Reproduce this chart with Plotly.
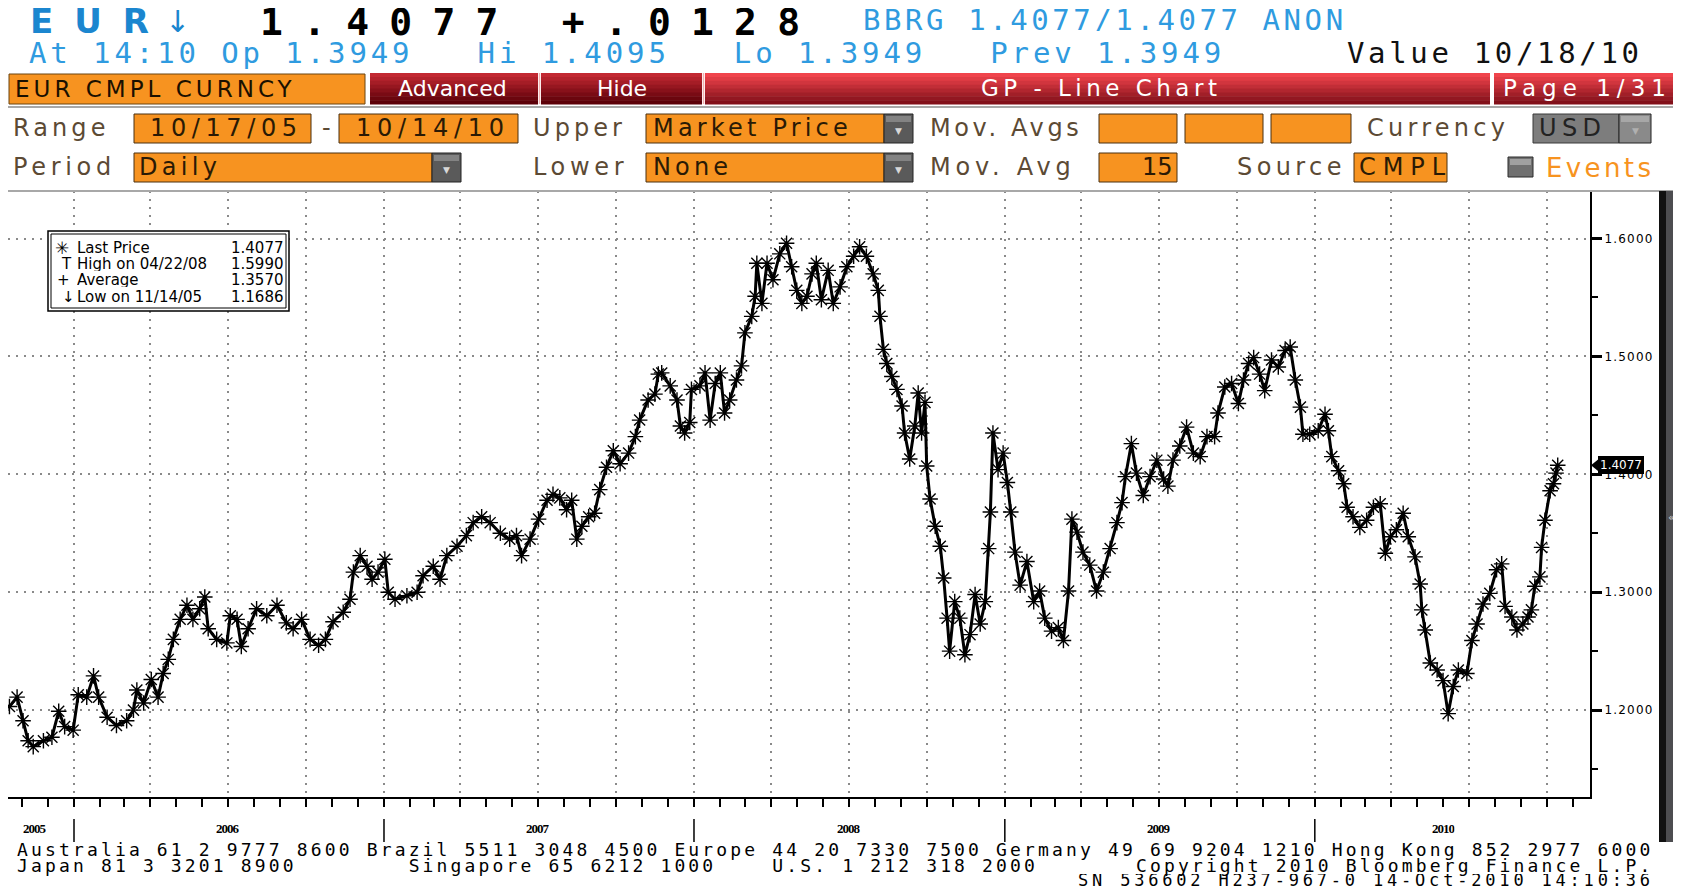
import plotly.graph_objects as go
import pandas as pd

# ---------------- data ----------------
start_date = "2005-10-17"
day_offsets = [
    0, 9, 16, 22, 28, 40, 50, 58, 65, 75, 81, 91, 99, 105, 115, 126, 138, 146, 150, 158, 167, 175, 181, 187, 193,
    201, 209, 216, 224, 230, 234, 244, 256, 260, 268, 273, 281, 291, 303, 315, 326, 334, 344,
    354, 364, 372, 381, 393, 401, 405, 413, 421, 427, 434, 442, 446, 454, 468, 480, 487, 499, 507, 515, 527, 538,
    546, 556, 566, 578, 589, 597, 603, 613, 623, 633, 640, 648, 656, 662, 668, 674, 682, 689, 695, 703, 711, 719,
    729, 737, 742, 752, 760, 764,
    768, 778, 786, 790, 795, 801, 803, 813, 819, 825, 831, 837, 842, 848, 856, 862, 866, 874, 878, 880, 886, 892,
    899, 907, 915, 921, 927, 933, 939, 945, 950, 956, 964, 970, 978, 986, 994, 1001, 1009, 1017, 1023, 1025, 1029,
    1033, 1039, 1045, 1051, 1054, 1060, 1066, 1070, 1074, 1078, 1080, 1084, 1090, 1096,
    1100, 1104, 1107, 1113, 1119, 1125, 1131, 1137, 1143, 1149, 1153, 1155, 1158, 1164, 1170, 1175, 1179, 1184,
    1190, 1198, 1206, 1213, 1219, 1227, 1235, 1241, 1247, 1251, 1257, 1264, 1272, 1280, 1288, 1296, 1304, 1310,
    1314, 1321, 1327, 1335, 1343, 1351, 1359, 1364, 1370, 1378, 1386, 1394, 1402, 1410, 1419, 1423, 1431, 1439,
    1447, 1453, 1459,
    1465, 1472, 1478, 1486, 1494, 1502, 1508, 1514, 1520, 1523, 1531, 1541, 1549, 1553, 1557, 1565, 1571, 1575,
    1582, 1590, 1598, 1606, 1614, 1620, 1626, 1633, 1641, 1647, 1655, 1661, 1663, 1667, 1673, 1681, 1688, 1694,
    1700, 1706, 1716, 1722, 1728, 1735, 1743, 1751, 1757, 1761, 1769, 1775, 1782, 1788, 1792, 1796, 1802, 1804,
    1808, 1814, 1818, 1821, 1823,
]
last_prices = [
    1.203, 1.211, 1.191, 1.174, 1.169, 1.174, 1.177, 1.199, 1.186, 1.183, 1.213, 1.211, 1.229, 1.211, 1.194, 1.187,
    1.191, 1.200, 1.217, 1.206, 1.226, 1.211, 1.231, 1.243, 1.260, 1.277, 1.289, 1.277, 1.286, 1.296, 1.269, 1.260,
    1.257, 1.280, 1.277, 1.254, 1.269, 1.286, 1.280, 1.289, 1.274, 1.269, 1.277,
    1.260, 1.255, 1.260, 1.275, 1.283, 1.294, 1.317, 1.331, 1.322, 1.311, 1.317, 1.328, 1.300, 1.294, 1.297, 1.300,
    1.314, 1.322, 1.311, 1.331, 1.339, 1.348, 1.359, 1.364, 1.359, 1.350, 1.345, 1.348, 1.331, 1.345, 1.362, 1.378,
    1.383, 1.380, 1.370, 1.378, 1.345, 1.356, 1.364, 1.367, 1.387, 1.406, 1.420, 1.409, 1.418, 1.432, 1.446, 1.463,
    1.468, 1.485,
    1.486, 1.475, 1.463, 1.441, 1.435, 1.444, 1.472, 1.475, 1.486, 1.446, 1.477, 1.486, 1.452, 1.463, 1.480, 1.492,
    1.520, 1.534, 1.551, 1.579, 1.545, 1.579, 1.565, 1.587, 1.596, 1.576, 1.556, 1.545, 1.551, 1.570, 1.579, 1.548,
    1.573, 1.545, 1.559, 1.576, 1.585, 1.593, 1.585, 1.570, 1.556, 1.534, 1.506, 1.494, 1.483, 1.472, 1.458, 1.435,
    1.413, 1.441, 1.469, 1.435, 1.461, 1.407, 1.379, 1.356, 1.339,
    1.312, 1.278, 1.250, 1.292, 1.278, 1.247, 1.264, 1.298, 1.273, 1.292, 1.337, 1.368, 1.435, 1.404, 1.418, 1.393,
    1.368, 1.334, 1.306, 1.326, 1.292, 1.301, 1.278, 1.267, 1.270, 1.259, 1.301, 1.362, 1.351, 1.334, 1.323, 1.301,
    1.317, 1.337, 1.359, 1.376, 1.398, 1.426, 1.401, 1.382, 1.398, 1.412, 1.396, 1.390, 1.412, 1.424, 1.440, 1.418,
    1.415, 1.432, 1.432, 1.452, 1.474, 1.477, 1.460, 1.480, 1.494,
    1.499, 1.485, 1.471, 1.497, 1.491, 1.505, 1.508, 1.480, 1.457, 1.434, 1.434, 1.437, 1.451, 1.437, 1.415, 1.403,
    1.392, 1.372, 1.364, 1.355, 1.361, 1.372, 1.375, 1.333, 1.347, 1.353, 1.367, 1.347, 1.330, 1.307, 1.285, 1.268,
    1.240, 1.234, 1.225, 1.197, 1.220, 1.234, 1.231, 1.259, 1.273, 1.290, 1.299, 1.319, 1.324, 1.288, 1.279, 1.268,
    1.273, 1.279, 1.285, 1.305, 1.313, 1.338, 1.361, 1.386, 1.392, 1.401, 1.4077,
]

year_labels = ["2005", "2006", "2007", "2008", "2009", "2010"]
year_label_dates = ["2005-11-16", "2006-07-01", "2007-07-01", "2008-07-01", "2009-07-01", "2010-06-01"]
year_boundaries = ["2006-01-01", "2007-01-01", "2008-01-01", "2009-01-01", "2010-01-01"]
y_tick_values = [1.2, 1.3, 1.4, 1.5, 1.6]
y_tick_labels = ["1.2000", "1.3000", "1.4000", "1.5000", "1.6000"]
y_minor_values = [1.15, 1.25, 1.35, 1.45, 1.55]

legend_symbols = ["\u2733", "T", "+", "\u2193"]
legend_names = ["Last Price", "High on 04/22/08", "Average", "Low on 11/14/05"]
legend_values = ["1.4077", "1.5990", "1.3570", "1.1686"]

footer_lines = [
    "Australia 61 2 9777 8600 Brazil 5511 3048 4500 Europe 44 20 7330 7500 Germany 49 69 9204 1210 Hong Kong 852 2977 6000",
    "Japan 81 3 3201 8900        Singapore 65 6212 1000    U.S. 1 212 318 2000       Copyright 2010 Bloomberg Finance L.P.",
    "SN 536602 H237-967-0 14-Oct-2010 14:10:36",
]

n = min(len(day_offsets), len(last_prices))
dates = pd.Timestamp(start_date) + pd.to_timedelta(day_offsets[:n], unit="D")
prices = last_prices[:n]

# ---------------- geometry helpers (reference-screen pixels) ----------------
OFF = 8                      # page body margin of the browser
W, H = 1681 - 2 * OFF, 894 - 2 * OFF
L, R, T, B = 8, 1590, 191, 797


def px(X):
    return (X - L) / (R - L)


def py(Y):
    return (B - Y) / (B - T)


DV = {' ': .318, '-': .361, '.': .318, '/': .337, ':': .337,
      'A': .684, 'B': .686, 'C': .698, 'D': .770, 'E': .632, 'F': .575, 'G': .775, 'H': .752, 'I': .295,
      'L': .557, 'M': .863, 'N': .748, 'O': .787, 'P': .603, 'R': .695, 'S': .635, 'T': .611, 'U': .732,
      'V': .684, 'Y': .611, 'a': .613, 'b': .635, 'c': .550, 'd': .635, 'e': .615, 'f': .352, 'g': .635,
      'h': .634, 'i': .278, 'k': .579, 'l': .278, 'm': .974, 'n': .634, 'o': .612, 'p': .635, 'r': .411,
      's': .521, 't': .392, 'u': .634, 'v': .592, 'w': .818, 'x': .592, 'y': .592, 'z': .525}
DVB = {'E': .683, 'U': .812, 'R': .770}


def natural_width(s, size, kind):
    if kind == "mono":
        return 0.602 * size * len(s)
    tab = DVB if kind == "bold" else DV
    return sum(tab.get(c, DV.get(c, 0.636 if c.isdigit() else 0.6)) for c in s) * size


def spaced(s, size, target, kind):
    ls = (target - natural_width(s, size, kind)) / max(len(s) - 1, 1)
    s = s.replace("  ", "\u00a0\u00a0").replace("\u00a0 ", "\u00a0\u00a0")
    return '<span style="letter-spacing:%.2fpx">%s</span>' % (ls, s)


MONO = "DejaVu Sans Mono"
SANS = "DejaVu Sans"
BLUE = "#2f9be0"
EURBLUE = "#1b86cf"
ORANGE = "#F79320"
LABEL = "#5c4a34"

fig = go.Figure()

fig.add_trace(go.Scatter(
    x=dates, y=prices, mode="lines+markers",
    line=dict(color="black", width=3),
    marker=dict(symbol="asterisk-open", size=13, line=dict(color="black", width=1.4)),
    hoverinfo="skip", showlegend=False,
))

annotations = []
shapes = []


def text(X, Y, s, size, color, family=SANS, anchor="left", target=None, kind="sans", bold=False, pad=1,
         box_h=None):
    t = spaced(s, size, target, kind) if target else s
    a = dict(
        x=px(X), y=py(Y), xref="paper", yref="paper", text=t, showarrow=False,
        xanchor=anchor, yanchor="middle", align=anchor, borderpad=pad,
        font=dict(size=size, color=color, family=family, weight="bold" if bold else "normal"),
    )
    if box_h:
        a["height"] = box_h
        a["valign"] = "middle"
    annotations.append(a)


def rect(X0, Y0, X1, Y1, fill, line=None, lw=1):
    shapes.append(dict(type="rect", xref="paper", yref="paper", x0=px(X0), x1=px(X1), y0=py(Y1), y1=py(Y0),
                       fillcolor=fill, line=dict(color=line or fill, width=lw if line else 0), layer="above"))


def hexmix(c1, c2, t):
    a = [int(c1[i:i + 2], 16) for i in (1, 3, 5)]
    b = [int(c2[i:i + 2], 16) for i in (1, 3, 5)]
    return "#%02x%02x%02x" % tuple(round(a[k] + (b[k] - a[k]) * t) for k in range(3))


def gradient(X0, Y0, X1, Y1, ctop, cbot, nb=8):
    h = (Y1 - Y0) / nb
    for k in range(nb):
        rect(X0, Y0 + k * h, X1, Y0 + (k + 1) * h + 0.6, hexmix(ctop, cbot, k / (nb - 1)))


def line(X0, Y0, X1, Y1, color, w=1):
    shapes.append(dict(type="line", xref="paper", yref="paper", x0=px(X0), x1=px(X1), y0=py(Y0), y1=py(Y1),
                       line=dict(color=color, width=w), layer="above"))


# ---------------- header ----------------
text(29, 21, "EUR", 34, EURBLUE, SANS, target=119, kind="bold", bold=True, pad=0, box_h=26)
text(164, 21, "\u2193", 30, EURBLUE, SANS, pad=0, box_h=26)
text(259, 22, "1.4077 +.0128", 38, "black", MONO, target=540, kind="mono", bold=True, pad=0, box_h=28)
text(862, 20, "BBRG 1.4077/1.4077 ANON", 29, BLUE, MONO, target=480, kind="mono", pad=0, box_h=23)
text(27, 53, "At 14:10 Op 1.3949   Hi 1.4095   Lo 1.3949   Prev 1.3949", 29, BLUE, MONO, target=1192, kind="mono")
text(1345, 53, "Value 10/18/10", 29, "#111111", MONO, target=292, kind="mono")

# command bar
rect(9, 74, 365, 104, ORANGE, "#6a4410", 1)
text(13, 89, "EUR CMPL CURNCY", 23, "#1a1000", SANS, target=277)
gradient(370, 73, 538, 104, "#c22832", "#5c0008")
gradient(541, 73, 702, 104, "#c22832", "#5c0008")
gradient(705, 73, 1490, 104, "#f0444c", "#82101a")
gradient(1494, 73, 1676, 104, "#f0444c", "#82101a")
line(539.5, 73, 539.5, 104, "#f2b0b0", 1.5)
line(703.5, 73, 703.5, 104, "#f2b0b0", 1.5)
line(1492, 73, 1492, 104, "white", 2.5)
text(453, 88, "Advanced", 22, "white", SANS, anchor="center")
text(622, 88, "Hide", 22, "white", SANS, anchor="center")
text(979, 88, "GP - Line Chart", 23, "white", SANS, target=236)
text(1501, 88, "Page 1/31", 23, "white", SANS, target=164)

# control panel
rect(5, 107, 1678, 191, "rgba(0,0,0,0)", "#a8a8a8", 2)
RY, PY = 128, 167
text(11, RY, "Range", 24, LABEL, target=93)
text(531, RY, "Upper", 24, LABEL, target=89)
text(928, RY, "Mov. Avgs", 24, LABEL, target=152)
text(1365, RY, "Currency", 24, LABEL, target=139)
text(11, PY, "Period", 24, LABEL, target=99)
text(531, PY, "Lower", 24, LABEL, target=91)
text(928, PY, "Mov. Avg", 24, LABEL, target=144)
text(1235, PY, "Source", 24, LABEL, target=105)

FT = "#2a1a05"
rect(134, 114, 311, 143, ORANGE, "#4a3010", 1)
text(148, RY, "10/17/05", 24, FT, target=147)
text(320, RY, "-", 24, LABEL)
rect(339, 114, 518, 143, ORANGE, "#4a3010", 1)
text(354, RY, "10/14/10", 24, FT, target=148)


def dropdown(X0, Y0, X1, Y1, fill="#5a5a5a", arrow="#d8d8d8"):
    rect(X0, Y0, X1, Y1, fill, "#222222", 1)
    rect(X0 + 2, Y0 + 2, X1 - 2, Y0 + 8, hexmix(fill, "#ffffff", 0.25))
    text((X0 + X1) / 2, (Y0 + Y1) / 2 + 2, "\u25BC", 9, arrow, SANS, anchor="center")


rect(646, 114, 884, 143, ORANGE, "#4a3010", 1)
text(651, RY, "Market Price", 24, FT, target=196)
dropdown(884, 114, 913, 143)
for x0, x1 in [(1099, 1177), (1185, 1263), (1271, 1351)]:
    rect(x0, 114, x1, 143, ORANGE, "#4a3010", 1)
rect(1533, 114, 1619, 143, "#7d7d7d", "#3a3a3a", 1)
text(1537, RY, "USD", 24, "#222222", target=62)
dropdown(1619, 114, 1651, 143, fill="#8a8a8a", arrow="#b0b0b0")

rect(134, 153, 432, 182, ORANGE, "#4a3010", 1)
text(137, PY, "Daily", 24, FT, target=78)
dropdown(432, 153, 461, 182)
rect(646, 153, 884, 182, ORANGE, "#4a3010", 1)
text(651, PY, "None", 24, FT, target=75)
dropdown(884, 153, 913, 182)
rect(1099, 153, 1177, 182, ORANGE, "#4a3010", 1)
text(1175, PY, "15", 24, FT, anchor="right")
rect(1354, 153, 1447, 182, ORANGE, "#4a3010", 1)
text(1357, PY, "CMPL", 24, FT, target=86)
rect(1508, 157, 1533, 177, "#707070", "#2a2a2a", 1)
rect(1510, 159, 1531, 165, "#a0a0a0")
text(1544, PY + 1, "Events", 26, ORANGE, target=105)

# scrollbar on the right
rect(1659, 191, 1666, 842, "#111111")
rect(1666, 191, 1681, 842, "#4d4d50")
text(1666, 517, "\u00ab", 11, "#d0d0d0", SANS)

# ---------------- chart decorations ----------------
# legend box
rect(48, 231, 289, 311, "white", "black", 1.5)
rect(51, 234, 286, 308, "rgba(0,0,0,0)", "black", 1)
rows_y = [248, 264, 280, 297]
sym_x = [54, 60, 56, 61]
for k in range(4):
    text(sym_x[k], rows_y[k], legend_symbols[k], 15 if k else 17, "black", SANS, pad=0, box_h=14)
    text(76, rows_y[k], legend_names[k], 15, "black", SANS, pad=0, box_h=14)
    text(285, rows_y[k], legend_values[k], 15, "black", SANS, anchor="right", pad=0, box_h=14)

# year labels and separators
for lab, d in zip(year_labels, year_label_dates):
    annotations.append(dict(x=d, y=py(828), xref="x", yref="paper",
                            text='<span style="letter-spacing:-1px">%s</span>' % lab, showarrow=False,
                            xanchor="center", yanchor="middle", borderpad=0, height=12, valign="middle",
                            font=dict(size=13, color="black", family="Liberation Serif", weight="bold")))
for d in year_boundaries:
    shapes.append(dict(type="line", xref="x", yref="paper", x0=d, x1=d, y0=py(819), y1=py(842),
                       line=dict(color="black", width=1.5)))

# footer
text(16, 849, footer_lines[0], 18, "black", MONO, target=1633, kind="mono", pad=0)
text(16, 865, footer_lines[1], 18, "black", MONO, target=1633, kind="mono", pad=0)
text(1077, 880, footer_lines[2], 17, "black", MONO, target=572, kind="mono", pad=0, box_h=12)

# last price tag
last_val = prices[-1]
annotations.append(dict(x=px(1598), y=last_val, xref="paper", yref="y", text="%.4f" % last_val,
                        showarrow=False, xanchor="left", yanchor="middle", bgcolor="black",
                        bordercolor="black", borderpad=1,
                        font=dict(size=12, color="white", family=SANS)))
shapes.append(dict(type="path", xref="paper", yref="y",
                   path="M %f,%f L %f,%f L %f,%f Z" % (px(1591), last_val, px(1599), last_val + 0.0055,
                                                       px(1599), last_val - 0.0055),
                   fillcolor="black", line=dict(color="black", width=0)))

quarters = pd.date_range("2006-01-01", "2010-10-01", freq="QS")
months = pd.date_range("2005-11-01", "2010-11-01", freq="MS")

x_lo = pd.Timestamp(start_date) + pd.Timedelta(days=(L - 9.45) * 1.17744)
x_hi = pd.Timestamp(start_date) + pd.Timedelta(days=(R - 9.45) * 1.17744)

fig.update_layout(
    width=W, height=H,
    margin=dict(l=L - OFF, r=W - (R - OFF), t=T - OFF, b=H - (B - OFF), pad=0),
    paper_bgcolor="white", plot_bgcolor="white",
    showlegend=False, hovermode=False,
    annotations=annotations, shapes=shapes,
    xaxis=dict(
        type="date", range=[x_lo, x_hi],
        tickvals=list(quarters), ticks="outside", ticklen=8, tickwidth=1.5, tickcolor="black",
        showticklabels=False, showgrid=True, gridcolor="#8a8a8a", griddash="2px,6px", gridwidth=1.5,
        showline=True, linecolor="black", linewidth=2, zeroline=False,
        minor=dict(tickvals=list(months), ticks="outside", ticklen=8, tickwidth=1.5, tickcolor="black",
                   showgrid=False),
        fixedrange=True,
    ),
    yaxis=dict(
        side="right", range=[1.1263, 1.6403],
        tickvals=y_tick_values,
        ticktext=['<span style="letter-spacing:1.2px">%s</span>' % t for t in y_tick_labels],
        ticks="outside", ticklen=10, tickwidth=2.5, tickcolor="black",
        tickfont=dict(size=12, color="black", family=SANS),
        showgrid=True, gridcolor="#8a8a8a", griddash="2px,6px", gridwidth=1.5,
        showline=True, linecolor="black", linewidth=2, zeroline=False,
        minor=dict(tickvals=y_minor_values, ticks="outside", ticklen=6, tickwidth=1.5, tickcolor="black",
                   showgrid=False),
        fixedrange=True,
    ),
)

fig.write_html("out.html", config={"displayModeBar": False})
